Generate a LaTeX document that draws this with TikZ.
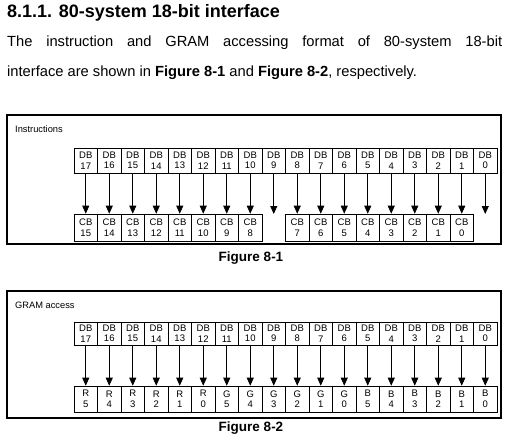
\documentclass[tikz,border=0pt]{standalone}
\usepackage{fontspec}
\setmainfont{Liberation Sans}
\usetikzlibrary{arrows,arrows.meta,positioning,calc}

\tikzset{
	bit/.style={draw, line width=0.6pt, minimum width=23.5pt, minimum height=25pt, inner sep=0pt, align=center, font=\fontsize{9.5}{10.5}\selectfont},
	frame/.style={draw, line width=1.3pt},
	link/.style={-{Triangle[width=7pt,length=8pt]}, line width=0.8pt},
	tag/.style={anchor=west, inner sep=0pt, font=\fontsize{9.3}{10}\selectfont},
	caption/.style={font=\bfseries\fontsize{13.5}{15}\selectfont}
}

\begin{document}
\begin{tikzpicture}[x=1pt,y=-1pt]
	\useasboundingbox (0,0) rectangle (510,444);
	% heading and text
	\node[anchor=west, inner sep=0pt, font=\bfseries\fontsize{18}{20}\selectfont] (title) at (7,13) {8.1.1. 80-system 18-bit interface};
	\node[anchor=north west, inner sep=0pt, text width=495pt, align=justify, font=\fontsize{14.7}{30}\selectfont] (body) at (7,36)
		{\hyphenpenalty=10000 The instruction and GRAM accessing format of 80-system 18-bit\linebreak interface are shown in \textbf{Figure 8-1} and \textbf{Figure 8-2}, respectively.};
	% Figure 8-1
	\draw[frame] (7,115) rectangle (501,244);
	\node[tag] (instr) at (15,129) {Instructions};
	\foreach \n [count=\i from 0] in {17,16,...,0}
		\node[bit] (dbA\n) at ({85.75+23.5*\i},160.5) {DB\\\n};
	\foreach \n in {15,14,...,8}
		\node[bit, minimum height=27pt] (cb\n) at ({85.75+23.5*(15-\n)},227.5) {CB\\\n};
	\foreach \n in {7,6,...,0}
		\node[bit, minimum height=27pt] (cb\n) at ({85.75+23.5*(16-\n)},227.5) {CB\\\n};
	\foreach \n in {15,14,...,8}
		\pgfmathtruncatemacro{\d}{\n+2}
		\draw[link] (dbA\d) -- (cb\n);
	\foreach \n in {7,6,...,0}
		\pgfmathtruncatemacro{\d}{\n+1}
		\draw[link] (dbA\d) -- (cb\n);
	\coordinate (endA9) at ({85.75+23.5*8},214);
	\coordinate (endA0) at ({85.75+23.5*17},214);
	\draw[link] (dbA9) -- (endA9);
	\draw[link] (dbA0) -- (endA0);
	\node[caption] (capA) at (251,258) {Figure 8-1};
	% Figure 8-2
	\draw[frame] (7,291) rectangle (501,418);
	\node[tag] (gram) at (15,305) {GRAM access};
	\foreach \n [count=\i from 0] in {17,16,...,0}
		\node[bit, minimum height=23pt] (dbB\n) at ({85.75+23.5*\i},333.5) {DB\\\n};
	\foreach \c/\k [count=\i from 0] in {R/5,R/4,R/3,R/2,R/1,R/0,G/5,G/4,G/3,G/2,G/1,G/0,B/5,B/4,B/3,B/2,B/1,B/0}{
		\node[bit, minimum height=26pt] (px\i) at ({85.75+23.5*\i},399) {\c\\\k};
		\pgfmathtruncatemacro{\d}{17-\i}
		\draw[link] (dbB\d) -- (px\i);
	}
	\node[caption] (capB) at (251,428) {Figure 8-2};
\end{tikzpicture}
\end{document}
